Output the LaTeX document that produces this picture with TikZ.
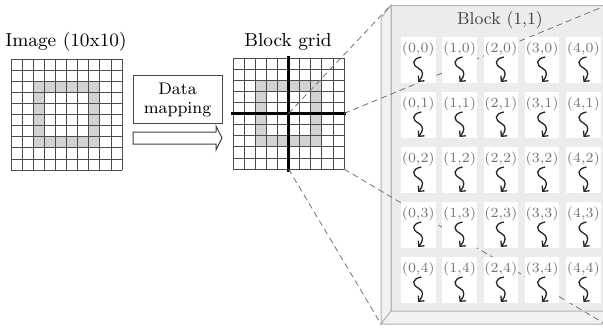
\documentclass[tikz,border=0pt]{standalone}
\usetikzlibrary{arrows.meta}
\begin{document}
\begin{tikzpicture}[x=.5pt,y=-.5pt,
  title/.style={font=\fontsize{9.4}{11}\selectfont},
  gridline/.style={black!70,line width=.4pt},
  cell/.style={fill=white,minimum width=17.25pt,minimum height=23pt,inner sep=0pt},
  lab/.style={text=black!55,inner sep=0pt,font=\fontsize{7}{8}\selectfont},
  guide/.style={black!55,dash pattern=on 3pt off 2pt,line width=.4pt},
  face/.style={fill=gray!10,draw=gray!60,line width=.5pt},
  snake/.style={black!85,line width=.65pt,-{Straight Barb[length=2pt,width=4pt]}}]
  \useasboundingbox (0,0) rectangle (603,327);
  \clip (0,0) rectangle (603,327);
  % titles
  \node[title] (imgtitle) at (66,42) {Image (10x10)};
  \node[title] (blktitle) at (288,42) {Block grid};
  % the two 10x10 grids with the gray ring
  \foreach \ox/\oy in {11/59,233/58}{
    \fill[gray!35] (\ox+22.2,\oy+22.2) rectangle ++(66.6,66.6);
    \fill[white] (\ox+33.3,\oy+33.3) rectangle ++(44.4,44.4);
    \foreach \k in {0,...,10}{
      \draw[gridline] (\ox+\k*11.1,\oy) -- ++(0,111);
      \draw[gridline] (\ox,\oy+\k*11.1) -- ++(111,0);
    }
  }
  \draw[line width=1.7pt] (288.5,56) -- (288.5,172);
  \draw[line width=1.7pt] (231,113.5) -- (346,113.5);
  \coordinate (blk-nw) at (288.5,113.5); \coordinate (blk-ne) at (344,113.5);
  \coordinate (blk-sw) at (288.5,169); \coordinate (blk-se) at (344,169);
  % mapping box and hollow arrow
  \node[draw=black!70,line width=.5pt,minimum width=44.5pt,minimum height=22.5pt,align=center,
        font=\fontsize{8.4}{9.5}\selectfont] (map) at (177.5,99.5) {Data\\mapping};
  \draw[black!75,line width=.5pt] (133,132) -- (216,132) -- (216,126) -- (222,138)
    -- (216,150) -- (216,144) -- (133,144) -- cycle;
  % block (1,1) drawn as a box
  \fill[gray!15] (391,5) rectangle (612,311);
  \draw[gray!60,line width=.5pt] (612,5) -- (391,5) -- (391,311) -- (612,311);
  \draw[face] (391,5) -- (381,18) -- (381,324) -- (391,311) -- cycle;
  \draw[face] (381,324) -- (391,311) -- (612,311) -- (602,324) -- cycle;
  \coordinate (box-nw) at (391,5); \coordinate (box-ne) at (612,3);
  \coordinate (box-sw) at (381,324); \coordinate (box-se) at (612,328);
  \node[text=black!75,font=\fontsize{8.6}{10}\selectfont] (boxtitle) at (500,20) {Block (1,1)};
  % projection lines
  \draw[guide] (blk-nw) -- (box-nw);
  \draw[guide] (blk-ne) -- (box-ne);
  \draw[guide] (blk-sw) -- (box-sw);
  \draw[guide] (blk-se) -- (box-se);
  % threads of the block
  \foreach \i in {0,...,4}{
    \foreach \j in {0,...,4}{
      \pgfmathsetmacro\cx{418.25+41.3*\i}
      \pgfmathsetmacro\cy{60+55*\j}
      \node[cell] (c\i\j) at (\cx,\cy) {};
      \node[lab] (l\i\j) at (\cx,\cy-11) {(\i,\j)};
      \draw[snake] (\cx+3,\cy-3) .. controls (\cx-7,\cy-1) and (\cx-6,\cy+5) .. (\cx,\cy+8)
        .. controls (\cx+6,\cy+11) and (\cx+5,\cy+16) .. (\cx,\cy+22);
    }
  }
\end{tikzpicture}
\end{document}
